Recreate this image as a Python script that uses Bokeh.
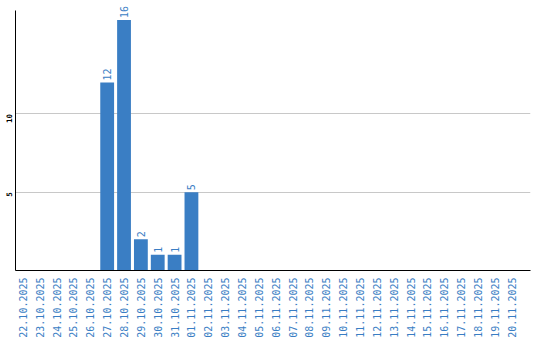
import math
from bokeh.plotting import figure
from bokeh.models import Range1d, FixedTicker, ColumnDataSource
from bokeh.core.properties import value
from bokeh.embed import file_html
from bokeh.resources import INLINE

dates = ["22.10.2025", "23.10.2025", "24.10.2025", "25.10.2025", "26.10.2025",
         "27.10.2025", "28.10.2025", "29.10.2025", "30.10.2025", "31.10.2025",
         "01.11.2025", "02.11.2025", "03.11.2025", "04.11.2025", "05.11.2025",
         "06.11.2025", "07.11.2025", "08.11.2025", "09.11.2025", "10.11.2025",
         "11.11.2025", "12.11.2025", "13.11.2025", "14.11.2025", "15.11.2025",
         "16.11.2025", "17.11.2025", "18.11.2025", "19.11.2025", "20.11.2025"]
counts = [0, 0, 0, 0, 0, 12, 16, 2, 1, 1, 5, 0, 0, 0, 0,
          0, 0, 0, 0, 0, 0, 0, 0, 0, 0, 0, 0, 0, 0, 0]
y_ticks = [5, 10]

BLUE = "#3a7ec4"
idx = list(range(len(dates)))
X0 = -0.44

p = figure(width=540, height=340, output_backend="svg", toolbar_location=None,
           x_range=Range1d(X0, 30.12), y_range=Range1d(0, 17.24),
           min_border_left=0, min_border_right=10, min_border_top=0,
           min_border_bottom=0)
p.outline_line_color = None
p.background_fill_color = "white"

src = ColumnDataSource(dict(x=idx, y=counts))
p.vbar(x="x", top="y", width=0.82, source=src, fill_color=BLUE, line_color=None)

lx = [i for i, c in zip(idx, counts) if c > 0]
ly = [c for c in counts if c > 0]
lt = [str(c) for c in ly]
p.text(x=lx, y=ly, text=lt, angle=math.pi / 2, text_align="left",
       text_baseline="middle", x_offset=0, y_offset=-2,
       text_font=value("DejaVu Sans Mono"), text_font_size="10px",
       text_color=BLUE)

p.xgrid.grid_line_color = None
p.ygrid.ticker = FixedTicker(ticks=y_ticks)
p.ygrid.grid_line_color = "#c8c8c8"

p.xaxis.ticker = FixedTicker(ticks=idx)
p.xaxis.major_label_overrides = {i: d for i, d in zip(idx, dates)}
p.xaxis.major_label_orientation = math.pi / 2
p.xaxis.major_label_text_font = "DejaVu Sans Mono"
p.xaxis.major_label_text_font_size = "10px"
p.xaxis.major_label_text_color = BLUE
p.xaxis.major_tick_line_color = None
p.xaxis.minor_tick_line_color = None
p.xaxis.major_label_standoff = 1
p.xaxis.axis_line_color = "black"

p.yaxis.ticker = FixedTicker(ticks=y_ticks)
p.yaxis.bounds = (0, 16.58)
p.yaxis.major_label_orientation = math.pi / 2
p.yaxis.major_label_text_font = "DejaVu Sans Mono"
p.yaxis.major_label_text_font_size = "7.5px"
p.yaxis.major_label_text_font_style = "bold"
p.yaxis.major_label_text_color = "black"
p.yaxis.major_label_standoff = 0
p.yaxis.major_tick_line_color = None
p.yaxis.minor_tick_line_color = None
p.yaxis.axis_line_color = "black"

open("out.html", "w").write(file_html(p, INLINE))
